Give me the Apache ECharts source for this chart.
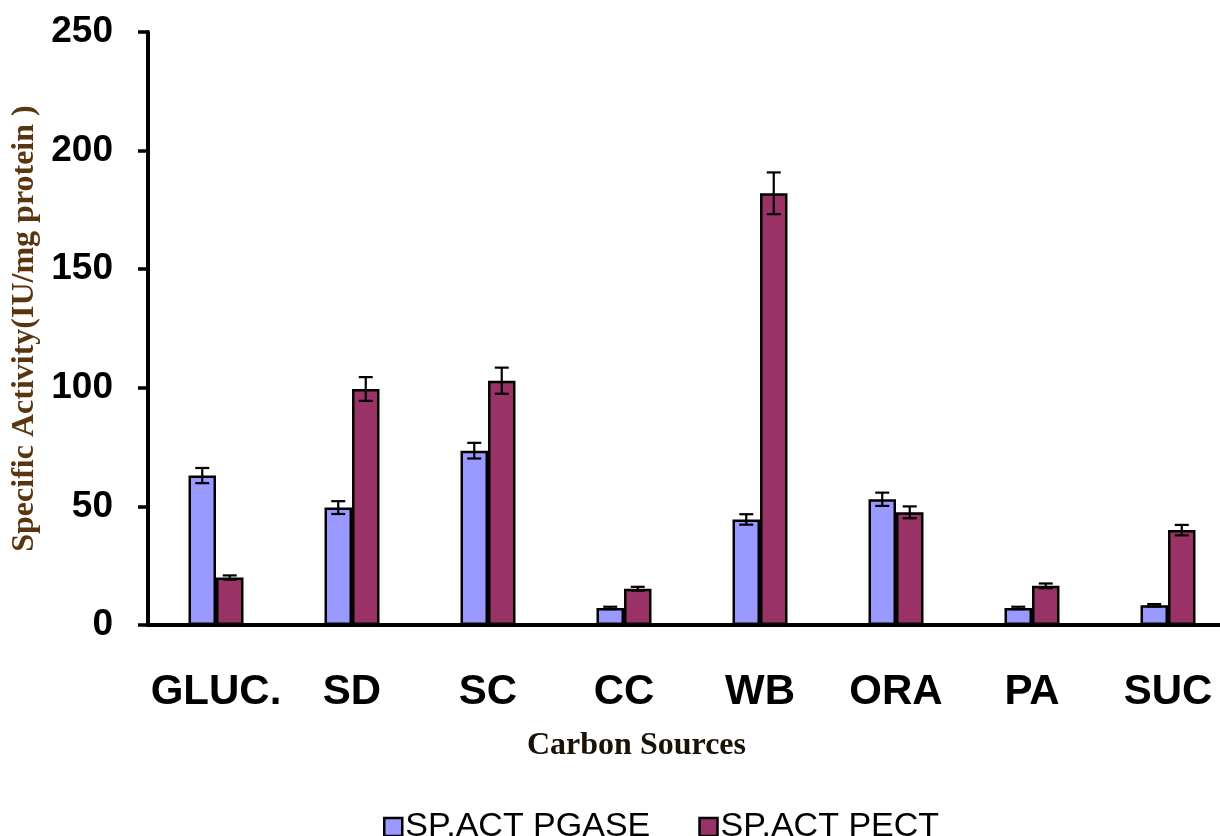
<!DOCTYPE html>
<html>
<head>
<meta charset="utf-8">
<script src="https://cdn.jsdelivr.net/npm/echarts@6/dist/echarts.min.js"></script>
<style>
html,body{margin:0;padding:0;background:#fff;overflow:hidden;width:1220px;height:836px;}
#chart{width:1240px;height:836px;}
</style>
</head>
<body>
<div id="chart"></div>
<script>
const categories = ['GLUC.', 'SD', 'SC', 'CC', 'WB', 'ORA', 'PA', 'SUC'];
const pgase = [63, 49.5, 73.5, 7.2, 44.5, 53, 7.2, 8.3];
const pgaseErr = [3.2, 2.7, 3.3, 0.5, 2.2, 2.8, 0.5, 0.5];
const pect = [20, 99.5, 103, 15.3, 182, 47.5, 16.5, 40];
const pectErr = [0.9, 5, 5.5, 0.8, 8.8, 2.5, 1, 2.2];
const yTicks = [0, 50, 100, 150, 200, 250];

const BAR_W = 27.5;
const colors = ['#9999FF', '#993366'];

function errSeries(vals, errs, offsetSign) {
  return {
    type: 'custom',
    z: 10,
    silent: true,
    data: vals.map((v, i) => [i, v, errs[i]]),
    renderItem: function (params, api) {
      const idx = api.value(0);
      const v = api.value(1);
      const e = api.value(2);
      const top = api.coord([idx, v + e]);
      const bot = api.coord([idx, v - e]);
      const x = top[0] + offsetSign * BAR_W / 2;
      const hw = 7;
      const st = { stroke: '#000', lineWidth: 2.2 };
      return {
        type: 'group',
        children: [
          { type: 'line', shape: { x1: x, y1: top[1], x2: x, y2: bot[1] }, style: st },
          { type: 'line', shape: { x1: x - hw, y1: top[1], x2: x + hw, y2: top[1] }, style: st },
          { type: 'line', shape: { x1: x - hw, y1: bot[1], x2: x + hw, y2: bot[1] }, style: st }
        ]
      };
    }
  };
}

const chart = echarts.init(document.getElementById('chart'), null, { renderer: 'canvas' });
chart.setOption({
  backgroundColor: '#fff',
  animation: false,
  grid: { left: 148, top: 32, width: 1088, height: 593, containLabel: false },
  legend: {
    data: ['SP.ACT PGASE', 'SP.ACT PECT'],
    left: 378,
    top: 805,
    icon: 'rect',
    itemWidth: 18,
    itemHeight: 18,
    itemGap: 48,
    textStyle: { fontFamily: 'Liberation Sans, Arial', fontSize: 34, color: '#000', padding: [0, 0, 0, -2] },
    itemStyle: { borderColor: '#000', borderWidth: 2.5 }
  },
  title: {
    text: 'Carbon Sources',
    left: 522,
    top: 725,
    textStyle: { fontFamily: 'Liberation Serif, Times New Roman', fontWeight: 'bold', fontSize: 32, color: '#1a1205' }
  },
  xAxis: {
    type: 'category',
    data: categories,
    axisLine: { lineStyle: { color: '#000', width: 4 } },
    axisTick: { show: false },
    axisLabel: {
      interval: 0,
      margin: 46,
      fontFamily: 'Liberation Sans, Arial',
      fontWeight: 'bold',
      fontSize: 42,
      color: '#000'
    }
  },
  yAxis: {
    type: 'value',
    min: 0,
    max: 250,
    interval: 50,
    name: 'Specific Activity(IU/mg protein )',
    nameLocation: 'middle',
    nameRotate: 90,
    nameGap: 107,
    nameTextStyle: { fontFamily: 'Liberation Serif, Times New Roman', fontWeight: 'bold', fontSize: 32, color: '#5a3610' },
    splitLine: { show: false },
    axisLine: { show: true, lineStyle: { color: '#000', width: 4 } },
    axisTick: { show: true, length: 10, lineStyle: { color: '#000', width: 3.5 } },
    axisLabel: {
      margin: 35,
      fontFamily: 'Liberation Sans, Arial',
      fontWeight: 'bold',
      fontSize: 37,
      color: '#000',
      formatter: v => (yTicks.indexOf(v) >= 0 ? String(v) : '')
    }
  },
  series: [
    {
      name: 'SP.ACT PGASE',
      type: 'bar',
      data: pgase,
      barWidth: BAR_W,
      barGap: '0%',
      itemStyle: { color: colors[0], borderColor: '#000', borderWidth: 2.5 }
    },
    {
      name: 'SP.ACT PECT',
      type: 'bar',
      data: pect,
      barWidth: BAR_W,
      barGap: '0%',
      itemStyle: { color: colors[1], borderColor: '#000', borderWidth: 2.5 }
    },
    errSeries(pgase, pgaseErr, -1),
    errSeries(pect, pectErr, 1)
  ]
});
</script>
</body>
</html>
